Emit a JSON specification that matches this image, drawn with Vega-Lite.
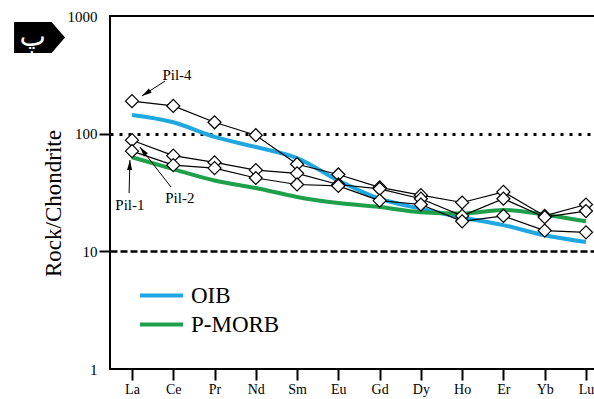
{
  "$schema": "https://vega.github.io/schema/vega-lite/v6.json",
  "width": 490,
  "height": 353,
  "autosize": {"type": "none"},
  "padding": {"left": 110, "top": 16, "right": 0, "bottom": 30},
  "background": "white",
  "config": {
    "view": {"stroke": "black", "strokeWidth": 2},
    "font": "Liberation Serif"
  },
  "datasets": {
    "samples": [
      {"sample": "Pil-4", "el": "La", "i": 0, "v": 189},
      {"sample": "Pil-4", "el": "Ce", "i": 1, "v": 172},
      {"sample": "Pil-4", "el": "Pr", "i": 2, "v": 125},
      {"sample": "Pil-4", "el": "Nd", "i": 3, "v": 97},
      {"sample": "Pil-4", "el": "Sm", "i": 4, "v": 55},
      {"sample": "Pil-4", "el": "Eu", "i": 5, "v": 45},
      {"sample": "Pil-4", "el": "Gd", "i": 6, "v": 35},
      {"sample": "Pil-4", "el": "Dy", "i": 7, "v": 30},
      {"sample": "Pil-4", "el": "Ho", "i": 8, "v": 26},
      {"sample": "Pil-4", "el": "Er", "i": 9, "v": 32},
      {"sample": "Pil-4", "el": "Yb", "i": 10, "v": 20},
      {"sample": "Pil-4", "el": "Lu", "i": 11, "v": 25},
      {"sample": "Pil-2", "el": "La", "i": 0, "v": 88},
      {"sample": "Pil-2", "el": "Ce", "i": 1, "v": 65},
      {"sample": "Pil-2", "el": "Pr", "i": 2, "v": 57},
      {"sample": "Pil-2", "el": "Nd", "i": 3, "v": 49},
      {"sample": "Pil-2", "el": "Sm", "i": 4, "v": 46},
      {"sample": "Pil-2", "el": "Eu", "i": 5, "v": 37},
      {"sample": "Pil-2", "el": "Gd", "i": 6, "v": 34},
      {"sample": "Pil-2", "el": "Dy", "i": 7, "v": 28},
      {"sample": "Pil-2", "el": "Ho", "i": 8, "v": 20},
      {"sample": "Pil-2", "el": "Er", "i": 9, "v": 28},
      {"sample": "Pil-2", "el": "Yb", "i": 10, "v": 19.5},
      {"sample": "Pil-2", "el": "Lu", "i": 11, "v": 22},
      {"sample": "Pil-1", "el": "La", "i": 0, "v": 71},
      {"sample": "Pil-1", "el": "Ce", "i": 1, "v": 54},
      {"sample": "Pil-1", "el": "Pr", "i": 2, "v": 51},
      {"sample": "Pil-1", "el": "Nd", "i": 3, "v": 42},
      {"sample": "Pil-1", "el": "Sm", "i": 4, "v": 37},
      {"sample": "Pil-1", "el": "Eu", "i": 5, "v": 36},
      {"sample": "Pil-1", "el": "Gd", "i": 6, "v": 27},
      {"sample": "Pil-1", "el": "Dy", "i": 7, "v": 25},
      {"sample": "Pil-1", "el": "Ho", "i": 8, "v": 18},
      {"sample": "Pil-1", "el": "Er", "i": 9, "v": 20},
      {"sample": "Pil-1", "el": "Yb", "i": 10, "v": 15},
      {"sample": "Pil-1", "el": "Lu", "i": 11, "v": 14.5}
    ],
    "ref": [
      {"series": "OIB", "el": "La", "i": 0, "v": 144},
      {"series": "OIB", "el": "Ce", "i": 1, "v": 125},
      {"series": "OIB", "el": "Pr", "i": 2, "v": 94},
      {"series": "OIB", "el": "Nd", "i": 3, "v": 77},
      {"series": "OIB", "el": "Sm", "i": 4, "v": 62},
      {"series": "OIB", "el": "Eu", "i": 5, "v": 40},
      {"series": "OIB", "el": "Gd", "i": 6, "v": 28},
      {"series": "OIB", "el": "Dy", "i": 7, "v": 23},
      {"series": "OIB", "el": "Ho", "i": 8, "v": 19.4},
      {"series": "OIB", "el": "Er", "i": 9, "v": 16.7},
      {"series": "OIB", "el": "Yb", "i": 10, "v": 13.7},
      {"series": "OIB", "el": "Lu", "i": 11, "v": 12},
      {"series": "P-MORB", "el": "La", "i": 0, "v": 63},
      {"series": "P-MORB", "el": "Ce", "i": 1, "v": 50},
      {"series": "P-MORB", "el": "Pr", "i": 2, "v": 40},
      {"series": "P-MORB", "el": "Nd", "i": 3, "v": 34.5},
      {"series": "P-MORB", "el": "Sm", "i": 4, "v": 29},
      {"series": "P-MORB", "el": "Eu", "i": 5, "v": 25.7},
      {"series": "P-MORB", "el": "Gd", "i": 6, "v": 23.8},
      {"series": "P-MORB", "el": "Dy", "i": 7, "v": 21.5},
      {"series": "P-MORB", "el": "Ho", "i": 8, "v": 21},
      {"series": "P-MORB", "el": "Er", "i": 9, "v": 22.5},
      {"series": "P-MORB", "el": "Yb", "i": 10, "v": 20.5},
      {"series": "P-MORB", "el": "Lu", "i": 11, "v": 18}
    ],
    "labels": [
      {"name": "Pil-4", "i": 1.09, "v": 315},
      {"name": "Pil-1", "i": -0.05, "v": 24.7},
      {"name": "Pil-2", "i": 1.16, "v": 28.4}
    ],
    "arrows": [
      {"name": "Pil-4", "i": 0.80, "v": 280, "i2": 0.24, "v2": 209},
      {"name": "Pil-1", "i": -0.07, "v": 31.3, "i2": -0.05, "v2": 59.7},
      {"name": "Pil-2", "i": 0.945, "v": 35.2, "i2": 0.19, "v2": 77}
    ],
    "heads": [
      {"name": "Pil-4", "i": 0.24, "v": 209},
      {"name": "Pil-1", "i": -0.05, "v": 59.7},
      {"name": "Pil-2", "i": 0.19, "v": 77}
    ],
    "badge": [
      {"label": "پ", "i": -2.24, "v": 655}
    ]
  },
  "encoding": {
    "x": {
      "field": "i", "type": "quantitative",
      "scale": {"domain": [-0.533, 11.34], "nice": false, "zero": false},
      "axis": {
        "values": [0, 1, 2, 3, 4, 5, 6, 7, 8, 9, 10, 11],
        "labelExpr": "['La','Ce','Pr','Nd','Sm','Eu','Gd','Dy','Ho','Er','Yb','Lu'][datum.value]",
        "grid": false,
        "domain": false,
        "tickSize": 11,
        "tickWidth": 2,
        "tickColor": "black",
        "labelFont": "Liberation Serif",
        "labelFontSize": 14,
        "labelColor": "black",
        "labelPadding": 2,
        "title": null
      }
    },
    "y": {
      "field": "v", "type": "quantitative",
      "scale": {"type": "log", "domain": [1, 1000], "nice": false},
      "axis": {
        "values": [1, 10, 100, 1000],
        "format": "d",
        "grid": true,
        "gridColor": {"condition": {"test": "datum.value === 10 || datum.value === 100", "value": "black"}, "value": "transparent"},
        "gridDash": {"condition": {"test": "datum.value === 100", "value": [3, 6]}, "value": [7, 3]},
        "gridWidth": {"condition": {"test": "datum.value === 100", "value": 3}, "value": 2.5},
        "gridOpacity": 1,
        "domain": false,
        "tickSize": 11,
        "tickWidth": 2,
        "tickColor": {"condition": {"test": "datum.value === 10 || datum.value === 100", "value": "black"}, "value": "transparent"},
        "labelFont": "Liberation Serif",
        "labelFontSize": 15,
        "labelColor": "black",
        "labelPadding": 2,
        "title": "Rock/Chondrite",
        "titleFont": "Liberation Serif",
        "titleFontSize": 23,
        "titleFontWeight": "normal",
        "titleColor": "black",
        "titlePadding": 2,
        "titleY": 187
      }
    }
  },
  "layer": [
    {
      "data": {"name": "ref"},
      "mark": {"type": "line", "strokeWidth": 4, "interpolate": "monotone"},
      "encoding": {
        "color": {
          "field": "series", "type": "nominal",
          "scale": {"domain": ["OIB", "P-MORB"], "range": ["#1FA7E1", "#1E9F4A"]},
          "legend": {
            "orient": "none",
            "legendX": 28,
            "legendY": 265,
            "title": null,
            "padding": 0,
            "symbolType": "stroke",
            "symbolSize": 1849,
            "symbolStrokeWidth": 4,
            "labelFont": "Liberation Serif",
            "labelFontSize": 23,
            "labelColor": "black",
            "labelOffset": 6,
            "clipHeight": 29,
            "rowPadding": 0
          }
        }
      }
    },
    {
      "data": {"name": "samples"},
      "mark": {"type": "line", "color": "black", "strokeWidth": 1.2},
      "encoding": {
        "detail": {"field": "sample", "type": "nominal"}
      }
    },
    {
      "data": {"name": "samples"},
      "mark": {"type": "point", "shape": "diamond", "filled": true, "fill": "white", "stroke": "black", "strokeWidth": 1.2, "size": 170, "opacity": 1},
      "encoding": {}
    },
    {
      "data": {"name": "arrows"},
      "mark": {"type": "rule", "color": "black", "strokeWidth": 1},
      "encoding": {
        "x2": {"field": "i2"},
        "y2": {"field": "v2"}
      }
    },
    {
      "data": {"name": "heads"},
      "transform": [{"filter": "datum.name === 'Pil-4'"}],
      "mark": {"type": "point", "shape": "M0,0L0.5,2L-0.5,2Z", "filled": true, "color": "black", "opacity": 1, "size": 100, "angle": 237},
      "encoding": {}
    },
    {
      "data": {"name": "heads"},
      "transform": [{"filter": "datum.name === 'Pil-1'"}],
      "mark": {"type": "point", "shape": "M0,0L0.5,2L-0.5,2Z", "filled": true, "color": "black", "opacity": 1, "size": 100, "angle": 2},
      "encoding": {}
    },
    {
      "data": {"name": "heads"},
      "transform": [{"filter": "datum.name === 'Pil-2'"}],
      "mark": {"type": "point", "shape": "M0,0L0.5,2L-0.5,2Z", "filled": true, "color": "black", "opacity": 1, "size": 100, "angle": 322},
      "encoding": {}
    },
    {
      "data": {"name": "labels"},
      "mark": {"type": "text", "font": "Liberation Serif", "fontSize": 15, "color": "black", "align": "center", "baseline": "middle"},
      "encoding": {
        "text": {"field": "name"}
      }
    },
    {
      "data": {"name": "badge"},
      "mark": {"type": "point", "shape": "M-25.5,-15.5L12,-15.5L25.5,0L12,15.5L-25.5,15.5Z", "filled": true, "color": "black", "opacity": 1, "size": 4},
      "encoding": {}
    },
    {
      "data": {"name": "badge"},
      "mark": {"type": "text", "font": "DejaVu Sans", "fontSize": 28, "color": "white", "align": "center", "baseline": "middle", "dx": -7},
      "encoding": {
        "text": {"field": "label"}
      }
    }
  ]
}
